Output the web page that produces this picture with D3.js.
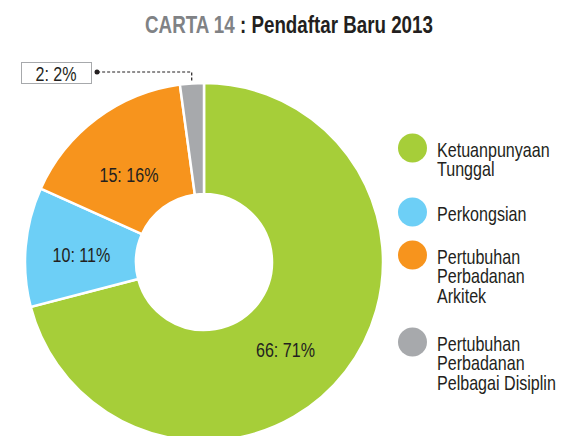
<!DOCTYPE html>
<html>
<head>
<meta charset="utf-8">
<script src="https://cdn.jsdelivr.net/npm/d3@7/dist/d3.min.js"></script>
<style>
  html, body { margin: 0; padding: 0; background: #fff; }
  svg text { font-family: "Liberation Sans", Arial, sans-serif; }
</style>
</head>
<body>
<svg id="chart" width="563" height="436"></svg>
<script>
// Pendaftar baru 2013 by registration type
const categories = ["Ketuanpunyaan Tunggal", "Perkongsian", "Pertubuhan Perbadanan Arkitek", "Pertubuhan Perbadanan Pelbagai Disiplin"];
const legendLines = [["Ketuanpunyaan", "Tunggal"], ["Perkongsian"], ["Pertubuhan", "Perbadanan", "Arkitek"], ["Pertubuhan", "Perbadanan", "Pelbagai Disiplin"]];
const counts = [66, 10, 15, 2];
const percents = [71, 11, 16, 2];
const colors = ["#a6ce39", "#6dcff6", "#f7941d", "#a7a9ac"];

const svg = d3.select("#chart");
const cx = 204, cy = 262, outerR = 179, innerR = 68;
const ink = "#231f20";

// Narrow the text horizontally to give a condensed face
function measure(str, size, weight) {
  const t = svg.append("text").attr("font-size", size).attr("font-weight", weight || "normal").text(str);
  const w = t.node().getComputedTextLength();
  t.remove();
  return w;
}
const kBody = 119 / measure("Pelbagai Disiplin", 21);
const kTitle = 288 / measure("CARTA 14 : Pendaftar Baru 2013", 23, "bold");

function label(parent, x, y, size, anchor, k) {
  return parent.append("text")
    .attr("transform", `translate(${x},${y}) scale(${k},1)`)
    .attr("text-anchor", anchor)
    .attr("font-size", size)
    .attr("fill", ink);
}

// Title
const title = label(svg, 289, 33, 23, "middle", kTitle).attr("font-weight", "bold");
title.append("tspan").attr("fill", "#808285").text("CARTA 14 ");
title.append("tspan").attr("fill", ink).text(": Pendaftar Baru 2013");

// Donut
const data = categories.map((c, i) => ({ name: c, value: counts[i], pct: percents[i], color: colors[i] }));
const pie = d3.pie().sort(null).value(d => d.value).startAngle(0).endAngle(2 * Math.PI);
const arcs = pie(data);
const arc = d3.arc().innerRadius(innerR).outerRadius(outerR);
const labelArc = d3.arc().innerRadius(122).outerRadius(122);
const nudge = [[-15, 13], [-1, 3], [-2, 11]];

const g = svg.append("g").attr("transform", `translate(${cx},${cy})`);
g.selectAll("path.slice").data(arcs).join("path")
  .attr("class", "slice")
  .attr("d", arc)
  .attr("fill", d => d.data.color)
  .attr("stroke", "#fff")
  .attr("stroke-width", 2.5);

// In-slice labels for the larger slices
arcs.filter(d => d.data.value >= 5).forEach((d, i) => {
  const [x, y] = labelArc.centroid(d);
  label(g, x + nudge[i][0], y + nudge[i][1] + 7, 21, "middle", kBody)
    .text(`${d.data.value}: ${d.data.pct}%`);
});

// Callout for the small slice
const small = arcs[3];
const mid = (small.startAngle + small.endAngle) / 2;
const px = cx + (outerR + 3) * Math.sin(mid);
const py = cy - (outerR + 3) * Math.cos(mid);
const lineY = 72, dotX = 97;
svg.append("path")
  .attr("d", `M${px},${py} L${px},${lineY} L${dotX},${lineY}`)
  .attr("fill", "none").attr("stroke", ink)
  .attr("stroke-width", 1.2).attr("stroke-dasharray", "3,2");
svg.append("circle").attr("cx", dotX).attr("cy", lineY).attr("r", 2.5).attr("fill", ink);
svg.append("rect").attr("x", 21.5).attr("y", 62.5).attr("width", 70).attr("height", 21)
  .attr("fill", "#fff").attr("stroke", "#a7a9ac").attr("stroke-width", 1);
label(svg, 56, 81, 21, "middle", kBody).text(`${small.data.value}: ${small.data.pct}%`);

// Legend
const legendY = [148, 212, 255, 342];
data.forEach((d, i) => {
  svg.append("circle").attr("cx", 412.5).attr("cy", legendY[i]).attr("r", 14.5).attr("fill", d.color);
  const t = label(svg, 437, legendY[i] + 8.5, 21, "start", kBody);
  legendLines[i].forEach((ln, j) => {
    t.append("tspan").attr("x", 0).attr("dy", j === 0 ? 0 : 20).text(ln);
  });
});
</script>
</body>
</html>
